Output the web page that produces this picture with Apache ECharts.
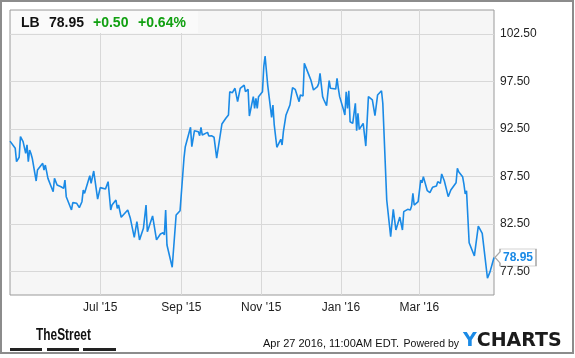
<!DOCTYPE html>
<html>
<head>
<meta charset="utf-8">
<script src="https://cdn.jsdelivr.net/npm/echarts@6/dist/echarts.min.js"></script>
<style>
html,body{margin:0;padding:0;background:#fff;}
#chart{width:575px;height:358px;}
</style>
</head>
<body>
<div id="chart"></div>
<script>
var ticker = 'LB';
var lastPrice = '78.95';
var change = '+0.50';
var changePct = '+0.64%';
var footerDate = 'Apr 27 2016, 11:00AM EDT.';
var footerPowered = 'Powered by';

var dates = ['2015-04-23','2015-04-27','2015-04-28','2015-04-30',
'2015-05-01','2015-05-03','2015-05-05','2015-05-06','2015-05-07','2015-05-08','2015-05-09','2015-05-10','2015-05-13','2015-05-14','2015-05-18','2015-05-19','2015-05-20','2015-05-21','2015-05-22','2015-05-26','2015-05-27','2015-05-29',
'2015-06-01','2015-06-03','2015-06-04','2015-06-05','2015-06-09','2015-06-10','2015-06-13','2015-06-15','2015-06-17','2015-06-18','2015-06-19','2015-06-23','2015-06-24','2015-06-26','2015-06-29',
'2015-07-01','2015-07-05','2015-07-07','2015-07-09','2015-07-10','2015-07-13','2015-07-14','2015-07-15','2015-07-17','2015-07-22','2015-07-24','2015-07-27','2015-07-29','2015-07-31',
'2015-08-03','2015-08-05','2015-08-06','2015-08-10','2015-08-13','2015-08-16','2015-08-18','2015-08-19','2015-08-20','2015-08-21','2015-08-25','2015-08-28','2015-08-31',
'2015-09-01','2015-09-03','2015-09-04','2015-09-08','2015-09-09','2015-09-11','2015-09-14','2015-09-15','2015-09-16','2015-09-17','2015-09-21','2015-09-22','2015-09-24','2015-09-26','2015-09-28','2015-09-29',
'2015-10-02','2015-10-05','2015-10-06','2015-10-07','2015-10-08','2015-10-10','2015-10-12','2015-10-14','2015-10-16','2015-10-19','2015-10-20','2015-10-22','2015-10-23','2015-10-26','2015-10-27','2015-10-28','2015-10-29','2015-10-30',
'2015-11-02','2015-11-03','2015-11-04','2015-11-06','2015-11-09','2015-11-10','2015-11-11','2015-11-12','2015-11-13','2015-11-16','2015-11-17','2015-11-18','2015-11-19','2015-11-20','2015-11-23','2015-11-25','2015-11-27','2015-11-30',
'2015-12-01','2015-12-03','2015-12-04','2015-12-07','2015-12-08','2015-12-09','2015-12-10','2015-12-11','2015-12-14','2015-12-15','2015-12-16','2015-12-18','2015-12-19','2015-12-21','2015-12-23','2015-12-24','2015-12-28','2015-12-29','2015-12-30','2015-12-31',
'2016-01-03','2016-01-04','2016-01-05','2016-01-06','2016-01-07','2016-01-08','2016-01-10','2016-01-11','2016-01-12','2016-01-13','2016-01-14','2016-01-15','2016-01-18','2016-01-20','2016-01-22','2016-01-25','2016-01-26','2016-01-27','2016-01-29',
'2016-02-01','2016-02-02','2016-02-03','2016-02-05','2016-02-08','2016-02-10','2016-02-11','2016-02-12','2016-02-15','2016-02-17','2016-02-18','2016-02-21','2016-02-23','2016-02-24','2016-02-25','2016-02-26','2016-02-29',
'2016-03-02','2016-03-03','2016-03-04','2016-03-07','2016-03-09','2016-03-11','2016-03-14','2016-03-15','2016-03-17','2016-03-18','2016-03-20','2016-03-23','2016-03-25','2016-03-29','2016-03-30','2016-03-31',
'2016-04-01','2016-04-03','2016-04-04','2016-04-05','2016-04-06','2016-04-08','2016-04-12','2016-04-15','2016-04-18','2016-04-22','2016-04-24','2016-04-27'];

var prices = [91.2,90.44,89.03,89.5,
91.67,91.14,89.9,90.8,89.03,90.26,89.9,89.4,87.0,88.16,88.86,88.16,88.68,87.98,87.28,85.87,87.28,86.58,
86.4,86.23,87.1,85.35,83.95,84.72,84.65,84.2,84.82,86.05,85.7,87.56,86.76,88.05,85.1,
86.3,86.16,86.93,83.95,84.47,85.0,84.12,84.47,83.18,83.95,83.07,81.07,82.72,80.8,
82.02,84.47,81.67,83.32,80.8,81.42,81.56,81.32,83.95,80.26,77.92,83.42,83.87,
83.95,89.4,90.61,92.65,90.61,92.3,92.19,91.77,92.65,91.84,92.12,91.74,91.77,91.6,89.4,89.4,
93.0,93.6,93.42,93.95,96.4,96.3,96.76,95.35,96.76,97.1,96.4,96.65,93.84,95.88,94.65,95.7,94.65,95.88,
96.4,99.03,100.16,97.1,93.7,95.0,92.9,93.0,90.55,91.39,90.79,92.19,92.08,93.95,95.0,96.82,96.65,95.35,
96.05,95.95,99.38,98.33,98.16,97.63,97.8,96.58,96.93,97.28,98.33,95.88,95.53,94.93,97.56,96.76,96.68,97.8,96.76,95.88,
94.47,93.95,96.4,94.65,96.5,93.24,93.07,93.14,95.18,92.3,94.12,92.44,93.07,90.68,95.88,95.53,95.7,93.87,96.05,
96.5,95.18,95.1,85.0,81.14,84.02,83.95,81.84,83.2,81.84,83.77,84.02,83.95,84.37,85.7,84.47,84.82,
87.1,86.82,87.46,85.98,85.77,86.33,86.47,86.93,86.75,87.74,87.03,85.35,86.05,86.82,88.33,87.98,
88.1,87.46,86.68,85.63,85.98,80.5,79.11,82.26,81.49,76.76,77.46,78.95];

var xTickDates = ['2015-07-01','2015-09-01','2015-11-01','2016-01-01','2016-03-01'];
var yTicks = [77.5, 82.5, 87.5, 92.5, 97.5, 102.5];
var xRange = ['2015-04-23','2016-04-27'];
var yRange = [75, 105];

function ts(s){ return new Date(s + 'T00:00:00').getTime(); }
var monthNames = ['Jan','Feb','Mar','Apr','May','Jun','Jul','Aug','Sep','Oct','Nov','Dec'];

var seriesData = dates.map(function(d, i){ return [ts(d), prices[i]]; });
var lastIdx = dates.length - 1;

var chart = echarts.init(document.getElementById('chart'), null, {renderer: 'canvas'});
var FONT = 'Liberation Sans, Arial, sans-serif';

var option = {
  animation: false,
  backgroundColor: '#ffffff',
  grid: {
    left: 10, top: 10, right: 81, bottom: 63,
    show: true, backgroundColor: '#f6f6f6', borderColor: '#9a9a9a', borderWidth: 1,
    containLabel: false
  },
  xAxis: {
    type: 'value',
    min: ts(xRange[0]), max: ts(xRange[1]),
    axisLine: {show: false},
    axisTick: {show: false, customValues: xTickDates.map(ts)},
    splitLine: {show: true, lineStyle: {color: '#d8d8d8', width: 1}},
    axisLabel: {
      customValues: xTickDates.map(ts),
      color: '#222', fontSize: 12, fontFamily: FONT, margin: 7,
      formatter: function(v){ var d = new Date(v); return monthNames[d.getMonth()] + " '" + String(d.getFullYear()).slice(2); }
    }
  },
  yAxis: {
    type: 'value', position: 'right',
    min: yRange[0], max: yRange[1],
    axisLine: {show: false},
    axisTick: {show: false, customValues: yTicks},
    splitLine: {show: true, lineStyle: {color: '#d8d8d8', width: 1}},
    axisLabel: {
      customValues: yTicks,
      color: '#222', fontSize: 12, fontFamily: FONT, margin: 6,
      formatter: function(v){ return v.toFixed(2); }
    }
  },
  series: [{
    type: 'line',
    data: seriesData,
    showSymbol: false,
    symbol: 'none',
    lineStyle: {color: '#1a8ae6', width: 1.6},
    z: 3,
    markPoint: {
      silent: true,
      symbol: 'path://M0,8.5 L5,3 L5,0 L41,0 L41,17 L5,17 L5,14 Z',
      symbolSize: [41, 17],
      symbolKeepAspect: false,
      symbolOffset: [21.5, 0],
      itemStyle: {color: '#ffffff', borderColor: '#a8a8a8', borderWidth: 1},
      label: {
        show: true, position: 'inside', offset: [2.5, 0],
        color: '#1a8ae6', fontWeight: 'bold', fontSize: 12, fontFamily: FONT,
        formatter: function(){ return lastPrice; }
      },
      data: [{coord: seriesData[lastIdx]}]
    }
  }],
  graphic: [
    {type: 'rect', z: 100, silent: true, shape: {x: 1, y: 1, width: 572, height: 352},
      style: {fill: 'none', stroke: '#8c8c8c', lineWidth: 2}},
    {type: 'rect', z: 100, shape: {x: 11, y: 11, width: 187, height: 22},
      style: {fill: '#fafafa'}},
    {type: 'text', z: 101, x: 21, y: 23, style: {text: ticker, fill: '#111', font: 'bold 14px ' + FONT, textVerticalAlign: 'middle'}},
    {type: 'text', z: 101, x: 49, y: 23, style: {text: lastPrice, fill: '#111', font: 'bold 14px ' + FONT, textVerticalAlign: 'middle'}},
    {type: 'text', z: 101, x: 93, y: 23, style: {text: change, fill: '#11a011', font: 'bold 14px ' + FONT, textVerticalAlign: 'middle'}},
    {type: 'text', z: 101, x: 138, y: 23, style: {text: changePct, fill: '#11a011', font: 'bold 14px ' + FONT, textVerticalAlign: 'middle'}},
    {type: 'text', z: 101, x: 36, y: 335, scaleX: 0.7, style: {text: 'TheStreet', fill: '#111', font: 'bold 17px ' + FONT, textVerticalAlign: 'middle'}},
    {type: 'rect', z: 101, shape: {x: 10, y: 348, width: 32, height: 3}, style: {fill: '#222'}},
    {type: 'rect', z: 101, shape: {x: 47, y: 348, width: 32, height: 3}, style: {fill: '#222'}},
    {type: 'rect', z: 101, shape: {x: 83, y: 348, width: 33, height: 3}, style: {fill: '#222'}},
    {type: 'text', z: 101, x: 263, y: 344, style: {text: footerDate, fill: '#111', font: '11px ' + FONT, textVerticalAlign: 'middle'}},
    {type: 'text', z: 101, x: 459, y: 344, style: {text: footerPowered, fill: '#111', font: '10.5px ' + FONT, textVerticalAlign: 'middle', textAlign: 'right'}},
    {type: 'text', z: 101, x: 463, y: 341, style: {
      text: '{y|Y}{c|CHARTS}', textVerticalAlign: 'middle',
      rich: {
        y: {fill: '#1a8ae6', font: 'bold 19px "DejaVu Sans", sans-serif'},
        c: {fill: '#1b1b1b', font: 'bold 19px "DejaVu Sans", sans-serif'}
      }
    }}
  ]
};
chart.setOption(option);
</script>
</body>
</html>
